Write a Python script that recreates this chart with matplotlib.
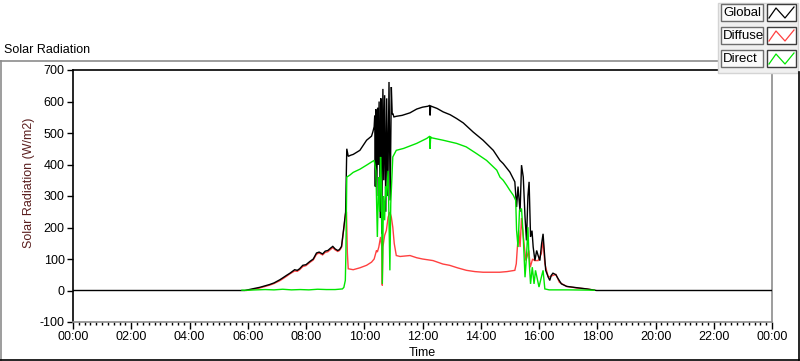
import matplotlib
matplotlib.use("Agg")
import matplotlib.pyplot as plt
from matplotlib.lines import Line2D
from matplotlib.patches import Rectangle
from matplotlib.ticker import MultipleLocator

plt.rcParams['font.family'] = ['Liberation Sans', 'DejaVu Sans']

# ---------------- data (time in hours, values in W/m2) ----------------
global_t = [0.0, 5.9, 6.0, 6.2, 6.41, 6.6, 6.75, 6.9, 7.1, 7.2, 7.33, 7.45, 7.61, 7.7, 7.78, 7.89,
            8.0, 8.13, 8.25, 8.36, 8.45, 8.57, 8.66, 8.75, 8.85, 8.92, 9.0, 9.09, 9.15, 9.22, 9.3,
            9.36, 9.38, 9.40, 9.45, 9.55, 9.62, 9.85, 10.08, 10.25, 10.30, 10.34, 10.36,
            10.38, 10.40, 10.43, 10.46, 10.48, 10.51, 10.55, 10.57, 10.60, 10.64, 10.67,
            10.70, 10.74, 10.77, 10.81, 10.85, 10.89, 10.93, 10.96, 10.98,
            11.02, 11.1, 11.3, 11.57, 11.8, 12.0, 12.19, 12.25, 12.26, 12.28, 12.3,
            12.5, 12.71, 12.95, 13.17, 13.4, 13.74, 14.08, 14.43, 14.66, 14.77, 15.0, 15.17, 15.23,
            15.28, 15.35, 15.40, 15.46, 15.52, 15.57, 15.62, 15.66, 15.71, 15.76, 15.80, 15.86,
            15.92, 15.97, 16.03, 16.09, 16.14, 16.18, 16.23, 16.32, 16.37, 16.42, 16.48, 16.58,
            16.66, 16.77, 16.95, 17.29, 17.64, 17.98, 24.0]
global_v = [0, 0, 2, 6, 10, 15, 19, 24, 34, 40, 48, 55, 66, 64, 69, 80,
            82, 92, 100, 119, 122, 116, 125, 127, 135, 140, 132, 127, 130, 140, 201,
            249, 350, 450, 426, 430, 432, 445, 477, 490, 505, 520, 555,
            330, 575, 300, 580, 400, 600, 230, 610, 180, 640, 350,
            620, 250, 610, 300, 662, 286, 646, 560, 562,
            551, 553, 556, 564, 576, 582, 585, 588, 556, 586, 585,
            578, 567, 558, 546, 532, 503, 477, 445, 413, 403, 376, 345, 265,
            330, 250, 398, 360, 233, 159, 300, 345, 170, 190, 138, 95,
            127, 111, 95, 149, 180, 127, 64, 42, 32, 48, 55, 50,
            37, 21, 13, 9, 5, 0, 0]

diffuse_t = [5.95, 6.2, 6.41, 6.6, 6.75, 6.9, 7.1, 7.2, 7.33, 7.45, 7.61, 7.7, 7.78, 7.89, 8.0,
             8.13, 8.25, 8.36, 8.45, 8.57, 8.66, 8.75, 8.85, 8.92, 9.0, 9.09, 9.15, 9.22, 9.3,
             9.36, 9.39, 9.42, 9.45, 9.62, 9.85, 10.08, 10.25, 10.34, 10.42, 10.45, 10.50, 10.56,
             10.60, 10.62, 10.64, 10.70, 10.76, 10.82, 10.88, 10.93, 10.98, 11.03, 11.1, 11.23,
             11.57, 11.8, 12.0, 12.36, 12.7, 12.93, 13.2, 13.51, 13.8, 14.08, 14.65, 14.9, 15.17,
             15.22, 15.25, 15.30, 15.35, 15.40, 15.45, 15.55, 15.65, 15.70, 15.78, 15.85, 15.97,
             16.08, 16.14, 16.20, 16.32, 16.48, 16.58, 16.7, 16.95, 17.3, 17.64, 17.9]
diffuse_v = [0, 4, 8, 13, 17, 22, 31, 37, 45, 53, 62, 61, 66, 76, 79,
             89, 97, 115, 119, 113, 121, 123, 131, 136, 129, 124, 127, 137, 198,
             245, 250, 120, 69, 66, 72, 80, 90, 100, 127, 122, 138, 170,
             140, 16, 138, 175, 191, 233, 249, 233, 201, 149, 111, 108,
             111, 104, 100, 95, 84, 80, 72, 64, 60, 58, 58, 60, 64,
             85, 127, 191, 138, 230, 180, 95, 127, 74, 100, 95, 95,
             117, 159, 85, 42, 48, 51, 26, 13, 8, 5, 1]

direct_t = [5.8, 6.0, 6.3, 6.6, 6.9, 7.2, 7.5, 7.8, 8.1, 8.4, 8.7, 9.0, 9.25, 9.30, 9.35, 9.37,
            9.40, 9.5, 9.62, 9.85, 10.08, 10.25, 10.34, 10.40, 10.45, 10.48, 10.50, 10.53, 10.56,
            10.59, 10.62, 10.66, 10.70, 10.73, 10.76, 10.82, 10.88, 10.91, 10.98, 11.1, 11.35,
            11.8, 12.15, 12.25, 12.26, 12.28, 12.3, 12.71, 13.17, 13.5, 13.85, 14.2, 14.55, 14.66,
            14.77, 14.89, 15.0, 15.12, 15.2, 15.23, 15.28, 15.33, 15.40, 15.46, 15.52, 15.57,
            15.62, 15.66, 15.71, 15.77, 15.83, 15.88, 16.0, 16.08, 16.14, 16.20, 16.35, 17.0, 17.9]
direct_v = [1, 1, 2, 3, 2, 4, 2, 3, 2, 4, 3, 3, 5, 10, 32, 117,
            360, 366, 375, 385, 398, 408, 413, 380, 170, 300, 360, 250, 424,
            330, 21, 300, 223, 330, 297, 380, 64, 276, 424, 445, 451,
            467, 483, 490, 450, 488, 485, 477, 467, 456, 435, 413, 382, 360,
            350, 334, 318, 302, 286, 191, 138, 254, 260, 170, 42, 106,
            201, 95, 21, 74, 21, 64, 11, 42, 64, 5, 2, 2, 1]

x_ticks = [0, 2, 4, 6, 8, 10, 12, 14, 16, 18, 20, 22, 24]
x_labels = ["00:00", "02:00", "04:00", "06:00", "08:00", "10:00", "12:00",
            "14:00", "16:00", "18:00", "20:00", "22:00", "00:00"]
y_ticks = [-100, 0, 100, 200, 300, 400, 500, 600, 700]
series_names = ["Global", "Diffuse", "Direct"]
series_colors = ["#000000", "#ff4040", "#00e600"]

# ---------------- figure ----------------
W, H = 800, 361
fig = plt.figure(figsize=(W / 100, H / 100), dpi=100)
fig.patch.set_facecolor("white")

def fx(px):
    return px / W

def fy(py):
    return 1 - py / H

ax = fig.add_axes([fx(73), fy(322), fx(772) - fx(73), fy(70) - fy(322)])
ax.set_facecolor("white")

data = [(global_t, global_v), (diffuse_t, diffuse_v), (direct_t, direct_v)]
zorders = [3, 2, 4]
for (t, v), c, z in zip(data, series_colors, zorders):
    ax.plot(t, v, color=c, lw=1.0, solid_joinstyle="miter", zorder=z)

ax.set_xlim(0, 24)
ax.set_ylim(-100, 700)
ax.set_xticks(x_ticks)
ax.set_xticklabels(x_labels)
ax.xaxis.set_minor_locator(MultipleLocator(0.2))
ax.set_yticks(y_ticks)
ax.set_yticklabels([str(v) for v in y_ticks])

ax.tick_params(axis="x", which="major", direction="out", length=5, width=1,
               labelsize=9, pad=1.5, color="black")
ax.tick_params(axis="x", which="minor", direction="out", length=2.5, width=1, color="black")
ax.tick_params(axis="y", which="major", direction="out", length=4, width=1,
               labelsize=9, pad=2, color="black")

for s in ["left", "top"]:
    ax.spines[s].set_color("black")
    ax.spines[s].set_linewidth(1.2)
for s in ["right", "bottom"]:
    ax.spines[s].set_color("#8c8c8c")
    ax.spines[s].set_linewidth(1.2)

# axis titles
fig.text(fx(29), fy(183), "Solar Radiation (W/m2)", rotation=90, ha="center", va="center",
         fontsize=9, color="#5a1e1e")
fig.text(fx(422), fy(353), "Time", ha="center", va="center", fontsize=9, color="black")
fig.text(fx(4), fy(50), "Solar Radiation", ha="left", va="center", fontsize=9, color="black")

# outer frame
fig.add_artist(Line2D([fx(0), fx(717)], [fy(61), fy(61)], color="#8c8c8c", lw=1.2))
fig.add_artist(Line2D([fx(0.6), fx(0.6)], [fy(61), fy(360)], color="#8c8c8c", lw=1.2))
fig.add_artist(Line2D([fx(0), fx(799.4)], [fy(359.5), fy(359.5)], color="black", lw=1.2))
fig.add_artist(Line2D([fx(799.4), fx(799.4)], [fy(72), fy(360)], color="black", lw=1.2))

# legend panel
fig.add_artist(Rectangle((fx(717.5), fy(72.5)), fx(798) - fx(717.5), fy(3) - fy(72.5),
                         transform=fig.transFigure, facecolor="#f0f0f0",
                         edgecolor="#d4d4d4", lw=1.0))
rows = [4, 27, 50]
for name, c, top in zip(series_names, series_colors, rows):
    bot = top + 17
    fig.add_artist(Rectangle((fx(721), fy(bot)), fx(763) - fx(721), fy(top) - fy(bot),
                             transform=fig.transFigure, facecolor="#fafafa",
                             edgecolor="#6e6e6e", lw=1.0))
    fig.text(fx(723), fy((top + bot) / 2 + 0.5), name, ha="left", va="center",
             fontsize=9.5, color="black")
    fig.add_artist(Rectangle((fx(767), fy(bot)), fx(796) - fx(767), fy(top) - fy(bot),
                             transform=fig.transFigure, facecolor="white",
                             edgecolor="#3c3c3c", lw=1.0))
    fig.add_artist(Line2D([fx(769), fx(776), fx(785), fx(794)],
                          [fy(bot - 3), fy(top + 4), fy(bot - 3), fy(top + 3)],
                          color=c, lw=0.9))

fig.savefig("out.png", dpi=100, facecolor="white")
